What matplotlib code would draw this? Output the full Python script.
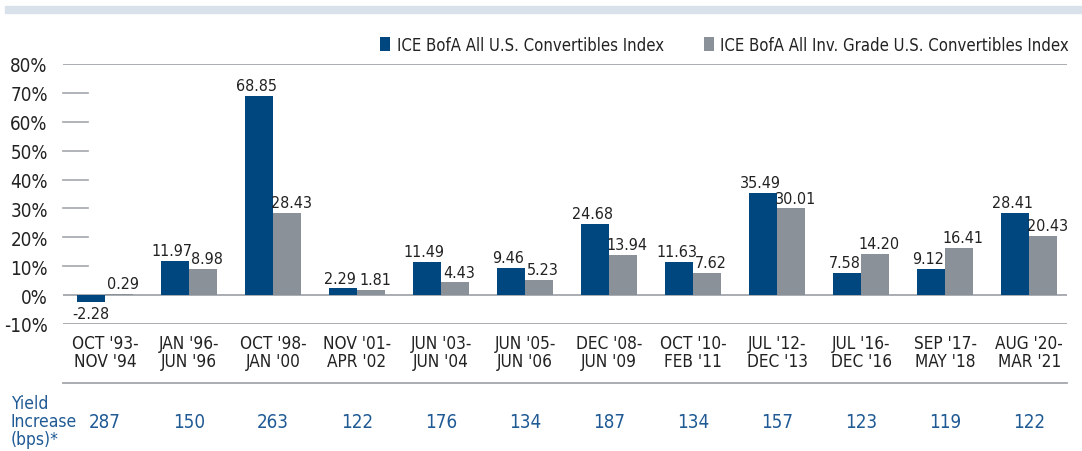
import matplotlib.pyplot as plt
import matplotlib.patches as mpatches
import numpy as np

plt.rcParams['font.family'] = ['DejaVu Sans']
plt.rcParams['font.stretch'] = 'condensed'

# data
periods = ["OCT '93-\nNOV '94", "JAN '96-\nJUN '96", "OCT '98-\nJAN '00", "NOV '01-\nAPR '02",
           "JUN '03-\nJUN '04", "JUN '05-\nJUN '06", "DEC '08-\nJUN '09", "OCT '10-\nFEB '11",
           "JUL '12-\nDEC '13", "JUL '16-\nDEC '16", "SEP '17-\nMAY '18", "AUG '20-\nMAR '21"]
all_conv = [-2.28, 11.97, 68.85, 2.29, 11.49, 9.46, 24.68, 11.63, 35.49, 7.58, 9.12, 28.41]
ig_conv = [0.29, 8.98, 28.43, 1.81, 4.43, 5.23, 13.94, 7.62, 30.01, 14.20, 16.41, 20.43]
yield_bps = [287, 150, 263, 122, 176, 134, 187, 134, 157, 123, 119, 122]
yticks = [-10, 0, 10, 20, 30, 40, 50, 60, 70, 80]

blue = '#00467f'
gray = '#8a9198'
line_col = '#a3a7ab'
txt_blue = '#1f5a94'
txt = '#222222'

W, H = 1082, 452
fig = plt.figure(figsize=(W / 100, H / 100), dpi=100)
ax = fig.add_axes([63 / W, 1 - 325 / H, (1067 - 63) / W, (325 - 65) / H])
px = 90 / 260  # data units per pixel on y

x = np.arange(len(periods))
bw = 0.33
b1 = ax.bar(x - bw / 2, all_conv, bw, color=blue, label='ICE BofA All U.S. Convertibles Index')
b2 = ax.bar(x + bw / 2, ig_conv, bw, color=gray, label='ICE BofA All Inv. Grade U.S. Convertibles Index')

# value labels, nudged apart a little like the original
for bars, vals, dx in [(b1, all_conv, -2), (b2, ig_conv, 3)]:
    for r, v in zip(bars, vals):
        cx = r.get_x() + r.get_width() / 2
        if v < 0:
            ax.annotate(f'{v:.2f}', (cx, v), xytext=(0, -3), textcoords='offset points',
                        ha='center', va='top', fontsize=11.5, color=txt)
        else:
            ax.annotate(f'{v:.2f}', (cx, v), xytext=(dx, 2), textcoords='offset points',
                        ha='center', va='bottom', fontsize=11.5, color=txt)

ax.set_xlim(-0.5, 11.45)
ax.set_ylim(-10, 80)
for s in ax.spines.values():
    s.set_visible(False)

# full-width lines at 80%, 0%, -10%; short stubs elsewhere
for yv in yticks:
    if yv in (80, 0, -10):
        ax.axhline(yv, color=line_col, lw=1.3, zorder=0)
    else:
        ax.plot([0, 0.025], [yv, yv], transform=ax.get_yaxis_transform(), color=line_col, lw=1.2, clip_on=False)

ax.set_yticks(yticks)
ax.set_yticklabels([f'{v}%' for v in yticks], fontsize=13.5, color=txt)
ax.set_xticks(x)
ax.set_xticklabels(periods, fontsize=12.3, color=txt, linespacing=1.05)
ax.tick_params(axis='both', length=0)
ax.tick_params(axis='y', pad=11)
ax.tick_params(axis='x', pad=7)

leg = ax.legend(ncol=2, loc='lower right', bbox_to_anchor=(1.012, 1.0), frameon=False,
                fontsize=12, handlelength=0.6, handleheight=0.9, handletextpad=0.4,
                columnspacing=2.4, borderaxespad=0.4, borderpad=0.2)
for t in leg.get_texts():
    t.set_color(txt)

# line below the x labels
ax.plot([0, 1], [-10 - 59 * px] * 2, transform=ax.get_yaxis_transform(),
        color=line_col, lw=1.3, clip_on=False)

# yield increase row
for xi, yb in zip(x, yield_bps):
    ax.text(xi, -10 - 98 * px, str(yb), ha='center', va='center', fontsize=13.5, color=txt_blue)
fig.text(11 / W, 1 - 422 / H, 'Yield\nIncrease\n(bps)*', ha='left', va='center', fontsize=12.5,
         color=txt_blue, linespacing=0.98)

# header band
fig.patches.append(mpatches.Rectangle((5 / W, 1 - 14 / H), 1 - 5 / W, 7 / H, transform=fig.transFigure,
                                      color='#d9e1ea', zorder=0))

fig.savefig('out.png', dpi=100)
